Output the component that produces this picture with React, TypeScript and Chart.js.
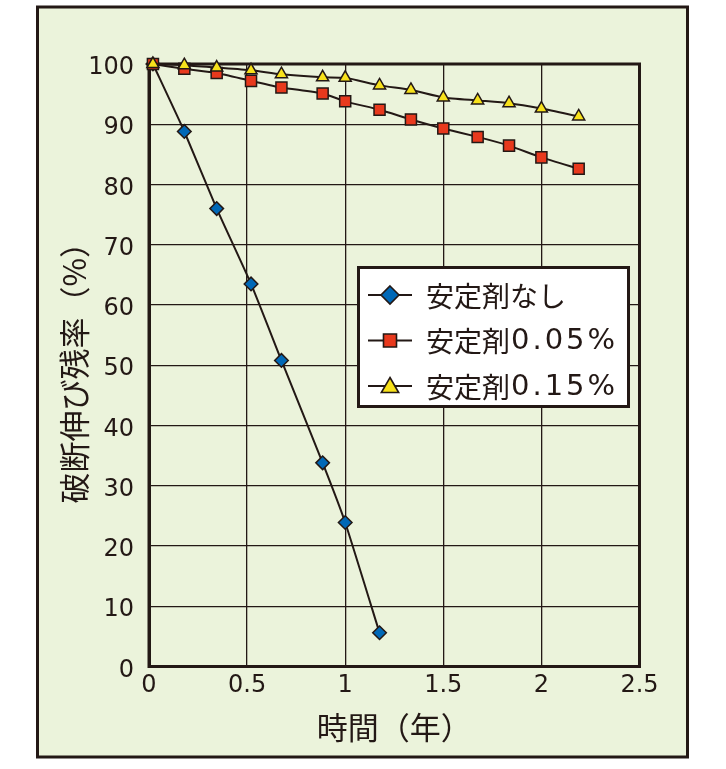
import React, { useEffect, useRef } from 'react';
import { Chart, registerables } from 'chart.js';

Chart.register(...registerables);

// ---- data ----
const timeYears = [0.02, 0.18, 0.345, 0.52, 0.675, 0.885, 1.0, 1.175, 1.335, 1.5, 1.675, 1.835, 2.0, 2.19];
const noStabilizer = [100, 88.8, 76, 63.5, 50.8, 33.8, 23.9, 5.6];
const stabilizer005 = [100, 99.2, 98.5, 97.2, 96.1, 95.1, 93.8, 92.4, 90.8, 89.3, 87.9, 86.45, 84.5, 82.6];
const stabilizer015 = [100, 99.8, 99.4, 98.95, 98.3, 97.8, 97.7, 96.45, 95.7, 94.45, 93.95, 93.5, 92.6, 91.3];
const seriesLabels = ['安定剤なし', '安定剤0.05%', '安定剤0.15%'];
const xTickValues = [0, 0.5, 1, 1.5, 2, 2.5];
const yTickValues = [0, 10, 20, 30, 40, 50, 60, 70, 80, 90, 100];
const xTitle = '時間（年）';
const yTitle = '破断伸び残率（%）';

const INK = '#231815';
const BG = '#ebf3db';
const BLUE = '#0068b7';
const RED = '#e8391d';
const YELLOW = '#f7e11b';

const toPoints = (vals: number[]) => vals.map((v, i) => ({ x: timeYears[i], y: v }));

function drawMarker(ctx: CanvasRenderingContext2D, style: string, x: number, y: number, r: number, fill: string) {
  ctx.save();
  ctx.beginPath();
  if (style === 'rectRot') {
    ctx.moveTo(x, y - r);
    ctx.lineTo(x + r, y);
    ctx.lineTo(x, y + r);
    ctx.lineTo(x - r, y);
  } else if (style === 'rect') {
    const s = r * Math.SQRT1_2;
    ctx.rect(x - s, y - s, 2 * s, 2 * s);
  } else {
    const c = Math.cos(Math.PI / 6) * r;
    ctx.moveTo(x, y - r);
    ctx.lineTo(x + c, y + r / 2);
    ctx.lineTo(x - c, y + r / 2);
  }
  ctx.closePath();
  ctx.fillStyle = fill;
  ctx.fill();
  ctx.lineWidth = 1.6;
  ctx.strokeStyle = INK;
  ctx.stroke();
  ctx.restore();
}

const framePlugin = {
  id: 'framePlugin',
  beforeDraw(chart: any) {
    const ctx = chart.ctx as CanvasRenderingContext2D;
    ctx.save();
    ctx.fillStyle = '#ffffff';
    ctx.fillRect(0, 0, chart.width, chart.height);
    ctx.fillStyle = BG;
    ctx.fillRect(37.5, 7, 650, 750);
    ctx.lineWidth = 3;
    ctx.strokeStyle = INK;
    ctx.strokeRect(37.5, 7, 650, 750);
    ctx.restore();
  },
  beforeDatasetsDraw(chart: any) {
    const ctx = chart.ctx as CanvasRenderingContext2D;
    const a = chart.chartArea;
    ctx.save();
    ctx.lineWidth = 3;
    ctx.strokeStyle = INK;
    ctx.strokeRect(a.left, a.top, a.right - a.left, a.bottom - a.top);
    ctx.restore();
  },
  afterDatasetsDraw(chart: any) {
    const ctx = chart.ctx as CanvasRenderingContext2D;
    const bx = 358.5, by = 267.5, bw = 270, bh = 139;
    ctx.save();
    ctx.fillStyle = '#ffffff';
    ctx.fillRect(bx, by, bw, bh);
    ctx.lineWidth = 3;
    ctx.strokeStyle = INK;
    ctx.strokeRect(bx, by, bw, bh);
    const rows = [295, 340.5, 386];
    const styles = [
      { s: 'rectRot', r: 9, c: BLUE },
      { s: 'rect', r: 9.2, c: RED },
      { s: 'triangle', r: 10, c: YELLOW },
    ];
    ctx.textBaseline = 'middle';
    ctx.textAlign = 'left';
    rows.forEach((ry, i) => {
      ctx.beginPath();
      ctx.moveTo(368, ry);
      ctx.lineTo(412, ry);
      ctx.lineWidth = 2.2;
      ctx.strokeStyle = INK;
      ctx.stroke();
      drawMarker(ctx, styles[i].s, 390, ry + (styles[i].s === 'triangle' ? 1.5 : 0), styles[i].r, styles[i].c);
      ctx.fillStyle = INK;
      const label = seriesLabels[i];
      const m = label.match(/^([^\x00-\x7f]*)(.*)$/);
      const cjk = m ? m[1] : label;
      const rest = m ? m[2] : '';
      ctx.font = "28px 'Noto Sans CJK JP'";
      (ctx as any).letterSpacing = '0px';
      ctx.fillText(cjk, 426, ry + 1);
      const w = ctx.measureText(cjk).width;
      if (rest) {
        ctx.font = "29px 'DejaVu Sans'";
        (ctx as any).letterSpacing = '3px';
        ctx.fillText(rest, 426 + w + 1, ry + 1);
      }
    });
    (ctx as any).letterSpacing = '0px';
    ctx.restore();
  },
};

export default function App() {
  const canvasRef = useRef<HTMLCanvasElement | null>(null);

  useEffect(() => {
    document.body.style.margin = '0';
    const canvas = canvasRef.current;
    if (!canvas) return;
    const tickFont = { family: "'DejaVu Sans'", size: 24 };
    const chart = new Chart(canvas, {
      type: 'line',
      data: {
        datasets: [
          {
            label: seriesLabels[0],
            data: toPoints(noStabilizer),
            borderColor: INK,
            borderWidth: 2,
            pointStyle: 'rectRot',
            pointRadius: 6.8,
            pointBackgroundColor: BLUE,
            pointBorderColor: INK,
            pointBorderWidth: 1.5,
            tension: 0.15,
            clip: false,
            order: 3,
          },
          {
            label: seriesLabels[1],
            data: toPoints(stabilizer005),
            borderColor: INK,
            borderWidth: 2,
            pointStyle: 'rect',
            pointRadius: 7.8,
            pointBackgroundColor: RED,
            pointBorderColor: INK,
            pointBorderWidth: 1.5,
            tension: 0.2,
            clip: false,
            order: 2,
          },
          {
            label: seriesLabels[2],
            data: toPoints(stabilizer015),
            borderColor: INK,
            borderWidth: 2,
            pointStyle: 'triangle',
            pointRadius: 7,
            pointBackgroundColor: YELLOW,
            pointBorderColor: INK,
            pointBorderWidth: 1.5,
            tension: 0.2,
            clip: false,
            order: 1,
          },
        ],
      },
      options: {
        responsive: false,
        animation: false,
        devicePixelRatio: 1,
        layout: { padding: { top: 64, right: 86.5, left: 0, bottom: 0 } },
        plugins: {
          legend: { display: false },
          tooltip: { enabled: false },
        },
        scales: {
          x: {
            type: 'linear',
            min: 0,
            max: 2.5,
            afterBuildTicks: (scale: any) => {
              scale.ticks = xTickValues.map((v) => ({ value: v }));
            },
            afterFit: (scale: any) => {
              scale.height = 102.5;
            },
            ticks: {
              font: tickFont,
              color: INK,
              padding: 5,
              maxRotation: 0,
              autoSkip: false,
              callback: (v: any) => String(v),
            },
            grid: { color: INK, lineWidth: 1.3, drawTicks: false },
            border: { display: true, color: INK, width: 3 },
            title: {
              display: true,
              text: xTitle,
              color: INK,
              font: { family: "'Noto Sans CJK JP'", size: 31 },
              padding: { top: 0, bottom: 23 },
            },
          },
          y: {
            type: 'linear',
            min: 0,
            max: 100,
            afterBuildTicks: (scale: any) => {
              scale.ticks = yTickValues.map((v) => ({ value: v }));
            },
            afterFit: (scale: any) => {
              scale.width = 149;
            },
            ticks: {
              font: tickFont,
              color: INK,
              padding: 15,
              labelOffset: 4,
              autoSkip: false,
              callback: (v: any) => String(v),
            },
            grid: { color: INK, lineWidth: 1.3, drawTicks: false },
            border: { display: true, color: INK, width: 3 },
            title: {
              display: true,
              text: yTitle,
              color: INK,
              font: { family: "'Noto Sans CJK JP'", size: 31 },
              padding: { top: 56, bottom: 0 },
            },
          },
        },
      } as any,
      plugins: [framePlugin],
    });
    return () => chart.destroy();
  }, []);

  return (
    <div style={{ position: 'fixed', left: 0, top: 0, width: 726, height: 769 }}>
      <canvas ref={canvasRef} width={726} height={769} style={{ display: 'block', width: 726, height: 769 }} />
    </div>
  );
}
